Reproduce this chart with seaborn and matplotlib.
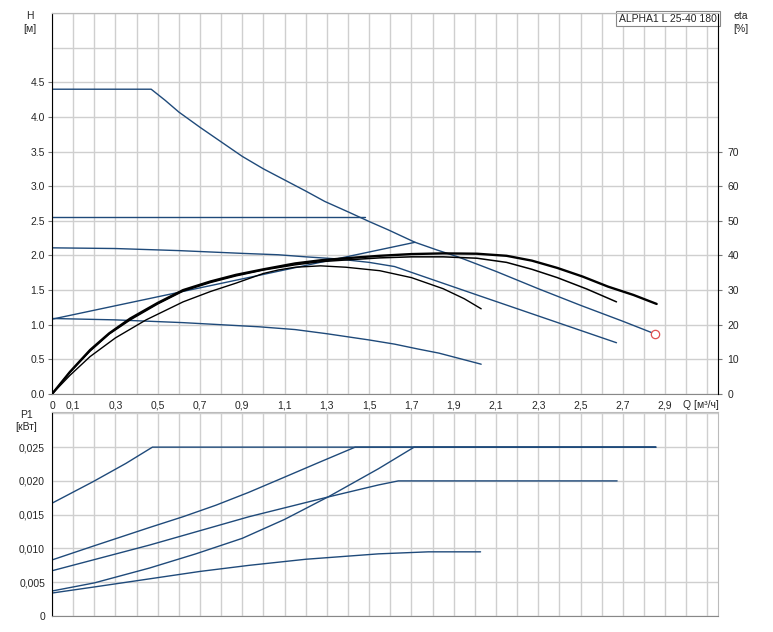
import numpy as np
import pandas as pd
import matplotlib
matplotlib.use("Agg")
import matplotlib.pyplot as plt
import seaborn as sns

sns.set_style("white")
plt.rcParams['font.family'] = ['Liberation Sans', 'DejaVu Sans']

# H(Q) curves, Q in m3/h, H in m
q_max = [0, 0.469, 0.535, 0.60, 0.70, 0.80, 0.90, 1.0, 1.10, 1.20, 1.29, 1.40, 1.50, 1.59, 1.717,
         1.82, 1.92, 2.1, 2.3, 2.5, 2.7, 2.85]
h_max = [4.40, 4.40, 4.24, 4.07, 3.85, 3.64, 3.43, 3.25, 3.09, 2.93, 2.78, 2.63, 2.49, 2.37, 2.19,
         2.08, 1.98, 1.77, 1.52, 1.28, 1.05, 0.87]
q_const = [0, 1.48]
h_const = [2.55, 2.55]
q_prop_hi = [0, 0.3, 0.6, 0.9, 1.07, 1.2, 1.35, 1.5, 1.62, 2.01, 2.67]
h_prop_hi = [2.11, 2.10, 2.07, 2.03, 2.01, 1.98, 1.95, 1.90, 1.84, 1.43, 0.74]
q_prop_lo = [0, 1.717]
h_prop_lo = [1.08, 2.19]
q_min = [0, 0.3, 0.62, 0.8, 0.98, 1.15, 1.3, 1.5, 1.62, 1.73, 1.83, 1.93, 2.03]
h_min = [1.09, 1.07, 1.03, 1.0, 0.97, 0.93, 0.87, 0.78, 0.72, 0.65, 0.59, 0.51, 0.43]

# efficiency curves, eta in %
q_eta_a = [0, 0.085, 0.18, 0.27, 0.37, 0.5, 0.62, 0.75, 0.87, 1.0, 1.15, 1.27, 1.39, 1.55, 1.70,
           1.85, 2.01, 2.15, 2.27, 2.39, 2.51, 2.63, 2.75, 2.86]
eta_a = [0, 6.4, 12.7, 17.5, 21.8, 26.3, 30.0, 32.5, 34.4, 36.0, 37.7, 38.6, 39.2, 39.9, 40.4,
         40.6, 40.5, 39.9, 38.5, 36.4, 33.9, 31.0, 28.6, 26.0]
q_eta_b = [0, 0.085, 0.18, 0.27, 0.37, 0.5, 0.62, 0.75, 0.87, 1.0, 1.15, 1.27, 1.39, 1.55, 1.70,
           1.85, 2.01, 2.15, 2.27, 2.39, 2.53, 2.67]
eta_b = [0, 6.3, 12.4, 17.3, 21.4, 26.0, 29.7, 32.2, 34.1, 35.8, 37.3, 38.2, 38.7, 39.3, 39.6,
         39.6, 39.2, 38.0, 36.0, 33.6, 30.3, 26.6]
q_eta_c = [0, 0.085, 0.18, 0.30, 0.445, 0.62, 0.75, 0.87, 1.0, 1.07, 1.15, 1.27, 1.39, 1.55, 1.70,
           1.85, 1.95, 2.03]
eta_c = [0, 5.4, 10.8, 16.2, 21.4, 26.6, 29.6, 32.0, 34.8, 35.8, 36.6, 37.0, 36.6, 35.6, 33.6,
         30.4, 27.5, 24.6]

# P1(Q) curves, kW
q_p1 = [0, 0.195, 0.35, 0.475, 2.856]
p_p1 = [0.0167, 0.0199, 0.0226, 0.0250, 0.0250]
q_p2 = [0, 0.2, 0.461, 0.62, 0.775, 0.93, 1.088, 1.26, 1.434, 2.856]
p_p2 = [0.0083, 0.0104, 0.0131, 0.0147, 0.0164, 0.0183, 0.0204, 0.0227, 0.0250, 0.0250]
q_p3 = [0, 0.461, 0.932, 1.31, 1.544, 1.638, 2.673]
p_p3 = [0.0067, 0.0105, 0.0147, 0.01765, 0.0194, 0.0200, 0.0200]
q_p4 = [0, 0.2, 0.461, 0.68, 0.90, 1.1, 1.31, 1.544, 1.713, 2.856]
p_p4 = [0.0037, 0.0049, 0.0071, 0.0092, 0.0115, 0.0143, 0.0177, 0.0218, 0.0250, 0.0250]
q_p5 = [0, 0.2, 0.461, 0.7, 0.932, 1.2, 1.544, 1.78, 2.027]
p_p5 = [0.0034, 0.0043, 0.0055, 0.0066, 0.0075, 0.0084, 0.0092, 0.0095, 0.0095]

duty_q = [2.85]
duty_h = [0.87]

x_ticks = [round(0.1 * i, 1) for i in range(32)]
x_labels = ['0'] + [('%.1f' % t).replace('.', ',') if (i % 2 == 1 and i < 30) else ''
                    for i, t in enumerate(x_ticks) if i > 0]
h_ticks = [0, 0.5, 1, 1.5, 2, 2.5, 3, 3.5, 4, 4.5]
h_labels = ['0.0', '0.5', '1.0', '1.5', '2.0', '2.5', '3.0', '3.5', '4.0', '4.5']
eta_ticks = [0, 10, 20, 30, 40, 50, 60, 70]
p_ticks = [0, 0.005, 0.010, 0.015, 0.020, 0.025]
p_labels = ['0', '0,005', '0,010', '0,015', '0,020', '0,025']

blue = '#1f4a7a'
gridc = '#cfcfcf'

fig = plt.figure(figsize=(7.73, 6.32), dpi=100)
ax = fig.add_axes([0.0673, 0.3766, 0.8615, 0.6028])
ax2 = ax.twinx()
axp = fig.add_axes([0.0673, 0.0253, 0.8615, 0.3228])


def draw(a, q, v, color=blue, lw=1.0):
    df = pd.DataFrame({'Q': q, 'v': v})
    sns.lineplot(data=df, x='Q', y='v', ax=a, color=color, lw=lw, sort=False, estimator=None)


for q, h in [(q_max, h_max), (q_const, h_const), (q_prop_hi, h_prop_hi), (q_prop_lo, h_prop_lo), (q_min, h_min)]:
    draw(ax, q, h)
draw(ax2, q_eta_c, eta_c, color='black', lw=1.0)
draw(ax2, q_eta_b, eta_b, color='black', lw=1.1)
draw(ax2, q_eta_a, eta_a, color='black', lw=1.7)
ax.plot(duty_q, duty_h, 'o', mfc='white', mec='#e05050', ms=6, mew=0.9, zorder=5)

for q, p in [(q_p1, p_p1), (q_p2, p_p2), (q_p3, p_p3), (q_p4, p_p4), (q_p5, p_p5)]:
    draw(axp, q, p)

xmax = 3.15
for a in (ax, axp):
    a.set_xlim(0, xmax)
    a.set_xticks(x_ticks)
    a.grid(True, which='both', color=gridc, lw=1.0)
    a.set_axisbelow(True)
    a.set_xlabel('')
    a.set_ylabel('')
    a.tick_params(axis='both', which='major', labelsize=7.5, length=3, width=0.8, color='#777777', pad=2)
    a.spines['left'].set_color('black')
    a.spines['bottom'].set_color('#888888')
    a.spines['top'].set_color('#bbbbbb')
    a.spines['right'].set_color('#bbbbbb')

ax.set_xticklabels(x_labels)
ax.set_ylim(0, 5.5)
ax.set_yticks(h_ticks)
ax.set_yticklabels(h_labels)
ax.set_yticks([5.0, 5.5], minor=True)
ax.tick_params(axis='y', which='minor', length=0)

ax2.set_ylim(0, 110)
ax2.set_yticks(eta_ticks)
ax2.set_ylabel('')
ax2.tick_params(axis='y', labelsize=7.5, length=3, width=0.8, color='#777777', pad=4)
ax2.spines['right'].set_color('black')
ax2.spines['top'].set_color('#bbbbbb')
ax2.spines['left'].set_visible(False)
ax2.spines['bottom'].set_visible(False)

axp.set_xticklabels([])
axp.set_ylim(0, 0.0302)
axp.set_yticks(p_ticks)
axp.set_yticklabels(p_labels)
axp.set_yticks([0.030], minor=True)
axp.tick_params(axis='y', which='minor', length=0)

ax.text(0.9985, 0.9985, 'ALPHA1 L 25-40 180', transform=ax.transAxes, ha='right', va='top', fontsize=7.5,
        bbox=dict(boxstyle='square,pad=0.25', fc='white', ec='#888888', lw=0.8), zorder=6)

fig.text(0.039, 0.982, 'H\n[м]', ha='center', va='top', fontsize=7.5, linespacing=1.3)
fig.text(0.958, 0.982, 'eta\n[%]', ha='center', va='top', fontsize=7.5, linespacing=1.3)
fig.text(0.034, 0.352, 'P1\n[кВт]', ha='center', va='top', fontsize=7.5, linespacing=1.3)
fig.text(0.883, 0.359, 'Q [м³/ч]', ha='left', va='center', fontsize=7.5)

fig.savefig('out.png', dpi=100)
